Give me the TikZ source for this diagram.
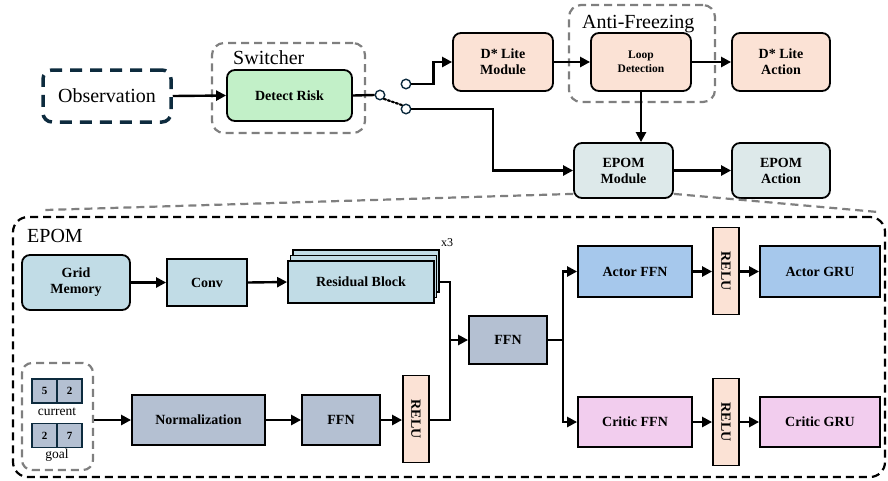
\documentclass[tikz,border=0pt]{standalone}
\usepackage{fontspec}
\setmainfont{Liberation Serif}
\usetikzlibrary{arrows.meta,calc}
\definecolor{navy}{HTML}{0D2B3E}
\definecolor{greenf}{HTML}{C2F0C8}
\definecolor{peach}{HTML}{FBE2D5}
\definecolor{epomf}{HTML}{DDE9EA}
\definecolor{lblue}{HTML}{C1DCE6}
\definecolor{slate}{HTML}{B4C0D2}
\definecolor{actorf}{HTML}{A6C8EC}
\definecolor{criticf}{HTML}{F2CDEE}
\definecolor{dgray}{HTML}{7F7F7F}
\tikzset{
  bx/.style={draw=black, line width=1.8pt, inner sep=1pt, align=center,
    font=\fontsize{14}{16}\selectfont\bfseries},
  rbx/.style={bx, rounded corners=8pt},
  relubox/.style={bx, fill=peach, rotate=-90, minimum width=87pt, minimum height=26pt},
  arr/.style={line width=2.4pt, -{Triangle[length=10pt,width=10pt]}},
  ln/.style={line width=2.4pt},
  gframe/.style={draw=dgray, line width=2.2pt, dash pattern=on 8pt off 5pt, rounded corners=12pt},
  sw/.style={circle, draw=navy, fill=white, line width=1.4pt, minimum size=9.5pt, inner sep=0pt},
  cell/.style={draw=navy, fill=slate, line width=1.4pt, minimum width=25pt, minimum height=24pt, inner sep=0pt, font=\fontsize{11}{12}\selectfont\bfseries},
  lbl/.style={font=\fontsize{20}{22}\selectfont, inner sep=0pt},
}
\begin{document}
\begin{tikzpicture}[x=1pt,y=-1pt]
\useasboundingbox (0,0) rectangle (888,480);
% ---------- top row ----------
\node[draw=navy, line width=3.5pt, dash pattern=on 12pt off 8pt, rounded corners=9pt,
  minimum width=128pt, minimum height=52pt, lbl] (obs) at (107,96) {Observation};
\node[gframe, minimum width=153pt, minimum height=90pt] (swf) at (288.5,88) {};
\node[lbl, anchor=base west] (swl) at (233,64) {Switcher};
\node[rbx, fill=greenf, minimum width=125pt, minimum height=51pt] (risk) at (289.5,95.5) {Detect Risk};
\node[sw] (c1) at (380,95) {};
\node[sw] (c2) at (406,84) {};
\node[sw] (c3) at (406,109) {};
\node[gframe, minimum width=146pt, minimum height=97pt] (aff) at (642,53.5) {};
\node[lbl, anchor=base west] (afl) at (582,28) {Anti-Freezing};
\node[rbx, fill=peach, minimum width=100pt, minimum height=58pt] (dlm) at (503,62) {D* Lite\\Module};
\node[rbx, fill=peach, minimum width=100pt, minimum height=58pt,
  font=\fontsize{11.5}{14}\selectfont\bfseries] (loop) at (641,62) {Loop\\Detection};
\node[rbx, fill=peach, minimum width=98pt, minimum height=58pt] (dla) at (781,62) {D* Lite\\Action};
\node[rbx, fill=epomf, minimum width=99pt, minimum height=55pt] (em) at (623.5,170.5) {EPOM\\Module};
\node[rbx, fill=epomf, minimum width=98pt, minimum height=55pt] (ea) at (781,170.5) {EPOM\\Action};
\draw[arr] (obs.east) -- (risk.west);
\draw[ln] (risk.east) -- (c1.west);
\draw[line width=2.2pt, dotted, line cap=round] (c1.south east) -- (c3.north west);
\draw[arr] (c2.east) -- ++(22,0) |- (dlm.west);
\draw[arr] (c3.east) -- ++(81.5,0) |- (em.west);
\draw[arr] (dlm.east) -- (loop.west);
\draw[arr] (loop.east) -- (dla.west);
\draw[arr] (loop.south) -- (loop.south |- em.north);
\draw[arr] (em.east) -- (ea.west);
% ---------- zoom lines ----------
\coordinate (zl) at (45,210);
\coordinate (zr) at (878,212);
\draw[draw=dgray, line width=2.2pt, dash pattern=on 8pt off 5pt] ([yshift=5pt]em.south west) -- (zl);
\draw[draw=dgray, line width=2.2pt, dash pattern=on 8pt off 5pt] ([yshift=5pt]em.south east) -- (zr);
% ---------- EPOM frame ----------
\node[draw=black, line width=2.2pt, dash pattern=on 8pt off 5pt, rounded corners=15pt,
  minimum width=872pt, minimum height=260pt] (big) at (449,347) {};
\node[lbl, anchor=base west] (epl) at (27,242) {EPOM};
\node[rbx, fill=lblue, minimum width=108pt, minimum height=55pt] (grid) at (76,282.5) {Grid\\Memory};
\node[bx, fill=lblue, minimum width=80pt, minimum height=47pt] (conv) at (207,282.5) {Conv};
\node[bx, fill=lblue, minimum width=146pt, minimum height=42pt] (resb) at (366,271) {};
\node[bx, fill=lblue, minimum width=146pt, minimum height=42pt] (resm) at (363.5,276.5) {};
\node[bx, fill=lblue, minimum width=146pt, minimum height=42pt] (res) at (361,282) {Residual Block};
\node[font=\fontsize{12}{14}\selectfont, inner sep=0pt] (x3) at (447,243) {x3};
\node[gframe, rounded corners=10pt, minimum width=71pt, minimum height=107pt] (sf) at (57.5,416.5) {};
\node[cell] (a1) at (44.5,391) {5};
\node[cell] (a2) at (69.5,391) {2};
\node[font=\fontsize{13.5}{15}\selectfont, inner sep=0pt] (cur) at (57,412) {current};
\node[cell] (b1) at (44.5,435.5) {2};
\node[cell] (b2) at (69.5,435.5) {7};
\node[font=\fontsize{13.5}{15}\selectfont, inner sep=0pt] (goal) at (57,455) {goal};
\node[bx, fill=slate, minimum width=133pt, minimum height=50pt] (norm) at (198.5,420) {Normalization};
\node[bx, fill=slate, minimum width=78pt, minimum height=50pt] (ffn1) at (341,420) {FFN};
\node[relubox] (relu1) at (416,419) {RELU};
\node[bx, fill=slate, minimum width=78pt, minimum height=48pt] (ffn2) at (508,340) {FFN};
\node[bx, fill=actorf, minimum width=114pt, minimum height=51pt] (afn) at (635,271.5) {Actor FFN};
\node[relubox] (relu2) at (726,271) {RELU};
\node[bx, fill=actorf, minimum width=120pt, minimum height=51pt] (agru) at (820,271.5) {Actor GRU};
\node[bx, fill=criticf, minimum width=114pt, minimum height=50pt] (cfn) at (635,422) {Critic FFN};
\node[relubox] (relu3) at (726,422) {RELU};
\node[bx, fill=criticf, minimum width=120pt, minimum height=50pt] (cgru) at (820,422) {Critic GRU};
\draw[arr] (grid.east) -- (conv.west);
\draw[arr] (conv.east) -- (res.west);
\coordinate (j) at (450,340);
\draw[ln] (resb.east |- res.east) -| (j);
\draw[ln] (relu1.north |- ffn1.east) -| (j);
\draw[arr] (j) -- (ffn2.west);
\draw[arr] (sf.east |- norm.west) -- (norm.west);
\draw[arr] (norm.east) -- (ffn1.west);
\draw[arr] (ffn1.east) -- (relu1.south |- ffn1.east);
\coordinate (k) at (563,340);
\draw[ln] (ffn2.east) -- (k);
\draw[arr] (k) |- (afn.west);
\draw[arr] (k) |- (cfn.west);
\draw[arr] (afn.east) -- (relu2.south |- afn.east);
\draw[arr] (relu2.north |- afn.east) -- (agru.west);
\draw[arr] (cfn.east) -- (relu3.south |- cfn.east);
\draw[arr] (relu3.north |- cfn.east) -- (cgru.west);
\end{tikzpicture}
\end{document}
